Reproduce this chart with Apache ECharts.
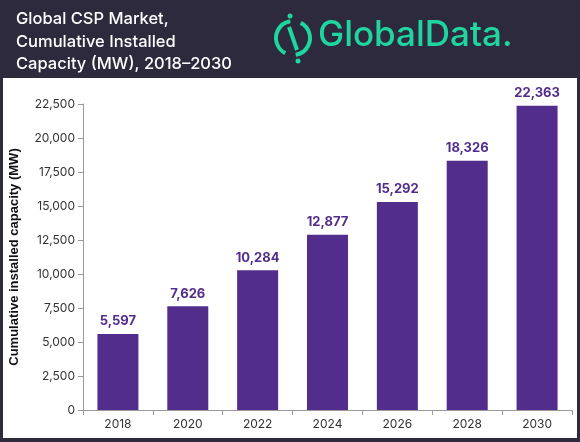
<!DOCTYPE html>
<html>
<head>
<meta charset="utf-8">
<script src="https://cdn.jsdelivr.net/npm/echarts@6/dist/echarts.min.js"></script>
<style>html,body{margin:0;padding:0;background:#2d2a3d;}#chart{width:580px;height:442px;}</style>
</head>
<body>
<div id="chart"></div>
<script>
var years = ['2018', '2020', '2022', '2024', '2026', '2028', '2030'];
var capacity = [5597, 7626, 10284, 12877, 15292, 18326, 22363];

var myChart = echarts.init(document.getElementById('chart'));
var option = {
    backgroundColor: '#2d2a3d',
    animation: false,
    graphic: [
        { type: 'rect', shape: { x: 3, y: 78, width: 574, height: 360 }, style: { fill: '#ffffff' }, z: -10 },
        { type: 'text', left: 16, top: 8, style: { text: 'Global CSP Market,\nCumulative Installed\nCapacity (MW), 2018\u20132030', fill: '#ffffff', font: '500 16.5px Inter', lineHeight: 22.5 } },
        // logo
        { type: 'arc', shape: { cx: 293, cy: 38, r: 17, startAngle: -Math.PI * 0.35, endAngle: Math.PI * 0.45 }, style: { stroke: '#1fd6a0', lineWidth: 4, fill: null } },
        { type: 'arc', shape: { cx: 293, cy: 38, r: 17, startAngle: Math.PI * 0.65, endAngle: Math.PI * 1.45 }, style: { stroke: '#1fd6a0', lineWidth: 4, fill: null } },
        { type: 'line', shape: { x1: 289, y1: 27, x2: 297, y2: 50 }, style: { stroke: '#1fd6a0', lineWidth: 4 } },
        { type: 'circle', shape: { cx: 290, cy: 16, r: 2.5 }, style: { fill: '#1fd6a0' } },
        { type: 'circle', shape: { cx: 298, cy: 61, r: 2.5 }, style: { fill: '#1fd6a0' } },
        { type: 'text', left: 318, top: 18, style: { text: 'GlobalData.', fill: '#1fd6a0', font: '500 35px Inter' } }
    ],
    grid: { left: 82, right: 8, top: 104, bottom: 32 },
    xAxis: {
        type: 'category',
        data: years,
        axisLine: { lineStyle: { color: '#999' } },
        axisTick: { show: true, lineStyle: { color: '#999' } },
        axisLabel: { color: '#333', fontSize: 12, fontFamily: 'Inter', margin: 8 }
    },
    yAxis: {
        type: 'value',
        min: 0, max: 22500, interval: 2500,
        name: 'Cumulative installed capacity (MW)',
        nameLocation: 'middle', nameGap: 62,
        nameTextStyle: { color: '#111', fontWeight: 'bold', fontSize: 13, fontFamily: 'Liberation Sans' },
        axisLine: { show: true, lineStyle: { color: '#999' } },
        axisTick: { show: true, lineStyle: { color: '#999' } },
        splitLine: { show: false },
        axisLabel: { color: '#333', fontSize: 12, fontFamily: 'Inter', formatter: function (v) { return v.toLocaleString('en-US'); } }
    },
    series: [{
        type: 'bar',
        data: capacity,
        barWidth: 41,
        itemStyle: { color: '#522d8c' },
        label: {
            show: true, position: 'top', distance: 6,
            color: '#522d8c', fontWeight: 'bold', fontSize: 13, fontFamily: 'Inter',
            formatter: function (p) { return p.value.toLocaleString('en-US'); }
        }
    }]
};
myChart.setOption(option);
</script>
</body>
</html>
